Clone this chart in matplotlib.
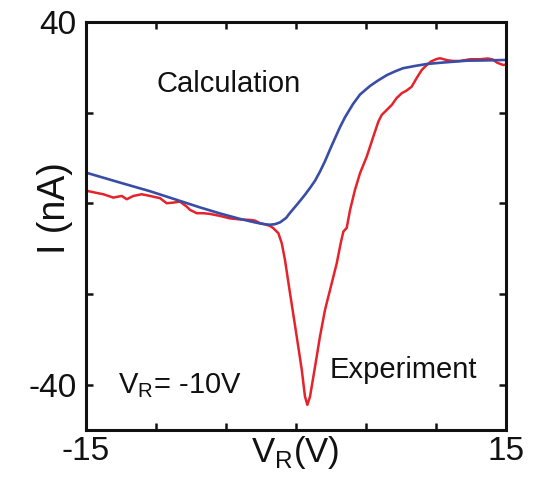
import matplotlib
matplotlib.use("Agg")
import matplotlib.pyplot as plt

plt.rcParams['font.family'] = ['Liberation Sans', 'DejaVu Sans']
plt.rcParams['mathtext.fontset'] = 'custom'
plt.rcParams['mathtext.rm'] = 'Liberation Sans'

exp_v = [-15.0, -14.48, -13.76, -13.05, -12.45, -12.09, -11.62, -11.02, -10.43, -9.71,
         -9.24, -8.76, -8.29, -7.81, -7.57, -7.09, -6.62, -6.14, -5.43, -4.71,
         -4.0, -3.29, -2.93, -2.57, -2.21, -1.86, -1.62, -1.26, -1.02, -0.79,
         -0.43, 0.05, 0.41, 0.64, 0.81, 1.0, 1.36, 1.71, 2.07, 2.55,
         2.91, 3.19, 3.38, 3.62, 3.86, 4.21, 4.57, 5.05, 5.52, 5.88,
         6.12, 6.48, 6.84, 7.19, 7.55, 7.91, 8.26, 8.62, 8.98, 9.34,
         9.64, 10.05, 10.29, 10.76, 11.2, 11.71, 12.43, 13.14, 13.71, 14.07,
         14.36, 14.79, 15.0]
exp_i = [2.8, 2.45, 2.0, 1.26, 1.63, 0.9, 1.63, 2.0, 1.63, 1.13,
         0.02, 0.16, 0.38, -0.73, -1.45, -2.18, -2.18, -2.34, -2.78, -3.33,
         -3.55, -3.66, -3.81, -4.39, -4.65, -4.98, -5.49, -6.59, -8.8, -12.48,
         -19.82, -29.39, -36.73, -42.62, -44.45, -42.62, -36.0, -29.39, -23.5, -17.62,
         -13.2, -8.8, -6.24, -5.42, -1.45, 2.96, 6.64, 10.3, 14.71, 18.02,
         19.5, 20.6, 21.7, 23.24, 24.28, 24.9, 25.73, 27.65, 29.42, 30.52,
         31.29, 31.84, 32.0, 31.6, 31.4, 31.4, 31.78, 31.78, 31.95, 31.7,
         31.03, 30.52, 30.6]

# calculated current (blue)
calc_v = [-15.0, -12.57, -10.43, -8.29, -6.86, -5.43, -4.0, -2.93, -2.57, -2.14,
          -1.86, -1.5, -1.14, -0.71, -0.43, -0.07, 0.29, 0.64, 1.0, 1.36,
          1.71, 2.07, 2.43, 2.79, 3.14, 3.5, 4.07, 4.57, 5.29, 5.86,
          6.5, 7.07, 7.64, 8.5, 9.36, 10.29, 12.21, 13.14, 15.0]
calc_i = [6.77, 4.57, 2.67, 0.53, -0.9, -2.23, -3.44, -4.21, -4.43, -4.65,
          -4.72, -4.6, -4.2, -3.22, -2.1, -0.79, 0.55, 1.9, 3.4, 5.0,
          7.0, 9.3, 11.9, 14.4, 16.8, 19.0, 21.9, 24.0, 25.9, 27.1,
          28.3, 29.1, 29.8, 30.3, 30.74, 31.0, 31.47, 31.5, 31.62]

x_ticks = [-15, -10, -5, 0, 5, 10, 15]
x_ticklabels = ['-15', '', '', '', '', '', '15']
y_ticks = [-40, -20, 0, 20, 40]
y_ticklabels = ['-40', '', '', '', '40']

fig = plt.figure(figsize=(5.33, 4.79), dpi=100)
ax = fig.add_axes([0.1614, 0.1023, 0.7880, 0.8518])

ax.plot(exp_v, exp_i, color='#e5232b', lw=1.8)
ax.plot(calc_v, calc_i, color='#3a4da6', lw=1.9)

ax.set_xlim(-15, 15)
ax.set_ylim(-50, 40)
ax.set_xticks(x_ticks)
ax.set_xticklabels(x_ticklabels)
ax.set_yticks(y_ticks)
ax.set_yticklabels(y_ticklabels)
ax.tick_params(direction='in', top=True, right=True, length=5, width=1.8,
               labelsize=24, color='#111111', labelcolor='#111111')
ax.tick_params(axis='x', pad=4)
ax.tick_params(axis='y', pad=7)
for s in ax.spines.values():
    s.set_linewidth(2.2)
    s.set_color('#111111')

ax.text(-0.075, 0.545, 'I (nA)', transform=ax.transAxes, rotation=90,
        ha='center', va='center', fontsize=27, color='#111111')
ax.text(0.497, -0.078, r'V$_\mathregular{R}$(V)', transform=ax.transAxes,
        ha='center', va='baseline', fontsize=25, color='#111111')

ax.text(-10.0, 24.6, 'Calculation', fontsize=21, va='baseline', color='#111111')
ax.text(2.43, -38.5, 'Experiment', fontsize=21, va='baseline', color='#111111')
ax.text(-12.7, -41.8, r'V$_\mathregular{R}$= -10V', fontsize=21, va='baseline',
        color='#111111')

fig.savefig('out.png', dpi=100)
